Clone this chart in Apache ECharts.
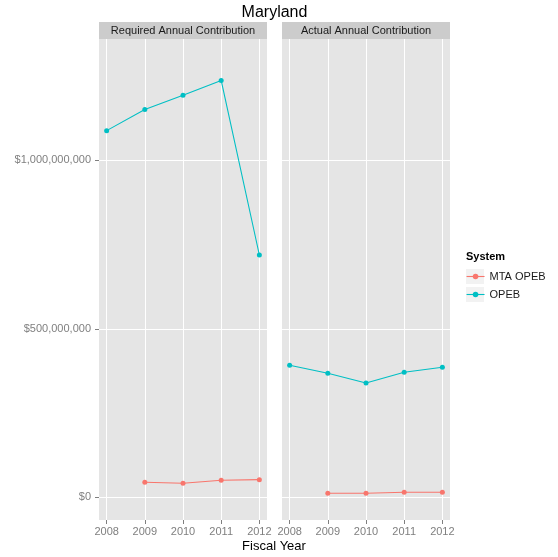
<!DOCTYPE html>
<html><head><meta charset="utf-8">
<script src="https://cdn.jsdelivr.net/npm/echarts@6/dist/echarts.min.js"></script>
<style>html,body{margin:0;padding:0;background:#fff}#c{width:558px;height:557px}</style>
</head><body><div id="c"></div>
<script>
// ---- data ----
const years = [2008, 2009, 2010, 2011, 2012];
const facets = ['Required Annual Contribution', 'Actual Annual Contribution'];
const systems = ['MTA OPEB', 'OPEB'];
const requiredMTA  = [null, 44.5e6, 41.5e6, 50.5e6, 52.3e6];
const requiredOPEB = [1088e6, 1151e6, 1193e6, 1237e6, 719e6];
const actualMTA    = [null, 11.9e6, 11.9e6, 14.9e6, 14.9e6];
const actualOPEB   = [392e6, 368e6, 339e6, 371e6, 386e6];
const yTickStep = 5e8;
const yTickMax = 1e9;
const mainTitle = 'Maryland';
const xTitle = 'Fiscal Year';
const legendTitle = 'System';

// ---- layout ----
const FONT = '"Liberation Sans", Arial, Helvetica, sans-serif';
const colors = {'MTA OPEB': '#F8766D', 'OPEB': '#00BFC4'};
const panelX = [99, 282], PW = 168, PY0 = 39, PY1 = 520;
const pad = PW * 0.2 / 4.4;
const yZero = 497.3, pxPerUnit = 168.5 / 5e8;
const yMin = -(PY1 - yZero) / pxPerUnit;
const yMax = (yZero - PY0) / pxPerUnit;
const gridBTop = yZero - yTickMax * pxPerUnit;

const fmtMoney = v => {
  const s = String(Math.round(v));
  return '$' + s.replace(/\B(?=(\d{3})+(?!\d))/g, ',');
};

const grids = [], xAxes = [], yAxes = [], series = [];
const facetData = [
  {'MTA OPEB': requiredMTA, 'OPEB': requiredOPEB},
  {'MTA OPEB': actualMTA, 'OPEB': actualOPEB}
];
const gray = '#7f7f7f';

panelX.forEach((x0, p) => {
  // grid C: panel background
  grids.push({left: x0, top: PY0, width: PW, height: PY1 - PY0, show: true,
    backgroundColor: '#E5E5E5', borderWidth: 0, containLabel: false});
  const gC = grids.length - 1;
  xAxes.push({gridIndex: gC, type: 'value', show: false, min: 0, max: 1});
  yAxes.push({gridIndex: gC, type: 'value', show: false, min: 0, max: 1});

  // grid B: horizontal grid lines + y labels
  grids.push({left: x0, top: gridBTop, width: PW, height: yZero - gridBTop, show: false});
  const gB = grids.length - 1;
  xAxes.push({gridIndex: gB, type: 'value', show: false, min: 0, max: 1});
  yAxes.push({gridIndex: gB, type: 'value', min: 0, max: yTickMax, interval: yTickStep,
    axisLine: {show: false, onZero: false},
    axisTick: {show: p === 0, length: 4, lineStyle: {color: gray, width: 1}},
    axisLabel: {show: p === 0, color: gray, fontSize: 11, margin: 8, fontFamily: FONT, formatter: fmtMoney},
    splitLine: {show: true, lineStyle: {color: '#ffffff', width: 1}}
  });

  // grid A: vertical grid lines, x labels, series
  grids.push({left: x0 + pad, top: PY0, width: PW - 2 * pad, height: PY1 - PY0, show: false});
  const gA = grids.length - 1;
  xAxes.push({gridIndex: gA, type: 'value', min: years[0], max: years[years.length - 1], interval: 1,
    position: 'bottom',
    axisLine: {show: false, onZero: false},
    axisTick: {show: true, length: 4, lineStyle: {color: gray, width: 1}},
    axisLabel: {color: gray, fontSize: 11, margin: 6, fontFamily: FONT, formatter: v => String(v)},
    splitLine: {show: true, lineStyle: {color: '#ffffff', width: 1}}
  });
  yAxes.push({gridIndex: gA, type: 'value', show: false, min: yMin, max: yMax});
  const xi = xAxes.length - 1, yi = yAxes.length - 1;
  systems.forEach(s => {
    series.push({
      name: s, type: 'line', xAxisIndex: xi, yAxisIndex: yi,
      data: years.map((y, i) => [y, facetData[p][s][i]]),
      symbol: 'circle', symbolSize: 5, showSymbol: true,
      lineStyle: {color: colors[s], width: 1.1},
      itemStyle: {color: colors[s]},
      emphasis: {disabled: true}, animation: false, z: 3
    });
  });
});

const graphic = [];
panelX.forEach((x0, p) => {
  graphic.push({type: 'rect', shape: {x: x0, y: 22, width: PW, height: PY0 - 22},
    style: {fill: '#CCCCCC'}, silent: true});
  graphic.push({type: 'text', x: x0 + PW / 2, y: 30.5, silent: true,
    style: {text: facets[p], fill: '#1a1a1a', font: '11px ' + FONT, align: 'center', verticalAlign: 'middle'}});
});
graphic.push({type: 'text', x: 274.5, y: 12.5, silent: true,
  style: {text: mainTitle, fill: '#000', font: '16px ' + FONT, align: 'center', verticalAlign: 'middle'}});
graphic.push({type: 'text', x: 274, y: 546, silent: true,
  style: {text: xTitle, fill: '#000', font: '13px ' + FONT, align: 'center', verticalAlign: 'middle'}});
graphic.push({type: 'text', x: 466, y: 257, silent: true,
  style: {text: legendTitle, fill: '#000', font: 'bold 11px ' + FONT, align: 'left', verticalAlign: 'middle'}});
[269, 287].forEach(t => graphic.push({type: 'rect', shape: {x: 466, y: t, width: 18, height: 15},
  style: {fill: '#F2F2F2'}, silent: true}));

const chart = echarts.init(document.getElementById('c'), null, {renderer: 'canvas'});
chart.setOption({
  animation: false,
  textStyle: {fontFamily: FONT},
  grid: grids, xAxis: xAxes, yAxis: yAxes, series: series,
  legend: {data: systems, orient: 'vertical', left: 466, top: 270.5, padding: 0, z: 10,
    itemWidth: 18, itemHeight: 7, itemGap: 6, selectedMode: false,
    lineStyle: {width: 1.1},
    textStyle: {color: '#1a1a1a', fontSize: 11, lineHeight: 12, fontFamily: FONT}},
  graphic: graphic
});
</script>
</body></html>
